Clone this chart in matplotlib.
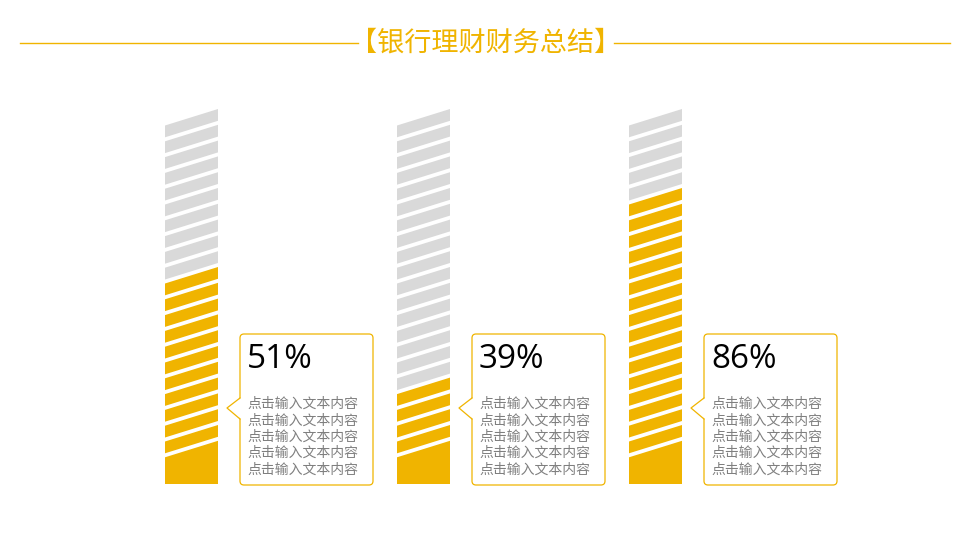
import matplotlib.pyplot as plt
from matplotlib.patches import Polygon, FancyBboxPatch

plt.rcParams['font.family'] = ['Noto Sans CJK SC', 'DejaVu Sans']

# data
pct_values = [51, 39, 86]          # numbers shown in the callouts
filled_stripes = [11, 4, 16]       # yellow stripes drawn in each column
n_stripes = 21
desc_lines = ['点击输入文本内容'] * 5
title = '【银行理财财务总结】'

yellow = '#F0B400'
gray = '#D9D9D9'
text_gray = '#7F7F7F'

fig = plt.figure(figsize=(9.6, 5.4), dpi=100)
ax = fig.add_axes([0, 0, 1, 1])
ax.set_xlim(0, 960)
ax.set_ylim(540, 0)
ax.axis('off')

# title with lines
ax.text(486, 43, title, ha='center', va='center', fontsize=19.5, color=yellow)
ax.plot([20, 358], [43, 43], color=yellow, lw=1)
ax.plot([614, 950], [43, 43], color=yellow, lw=1)

bar_left = [165, 397, 629]
bar_w = 53
top = 109
period = 15.8
thick = 11.8
slant = 16.5
bottom = 484

for k in range(len(pct_values)):
    x0 = bar_left[k]
    x1 = x0 + bar_w
    # slanted stripes
    for i in range(n_stripes):
        yt = top + i * period
        c = yellow if i >= n_stripes - filled_stripes[k] else gray
        ax.add_patch(Polygon([(x0, yt + slant), (x1, yt), (x1, yt + thick),
                              (x0, yt + thick + slant)], closed=True,
                             facecolor=c, edgecolor='none'))
    yt = top + n_stripes * period
    ax.add_patch(Polygon([(x0, yt + slant), (x1, yt), (x1, bottom), (x0, bottom)],
                         closed=True, facecolor=yellow, edgecolor='none'))

    # callout box
    bx0 = x0 + 75
    bw = 133
    by0 = 334
    by1 = 485
    ax.add_patch(FancyBboxPatch((bx0, by0), bw, by1 - by0,
                                boxstyle='round,pad=0,rounding_size=4',
                                facecolor='white', edgecolor=yellow, lw=0.9))
    tip = (bx0 - 13, 408)
    ax.add_patch(Polygon([(bx0 + 1, 398), tip, (bx0 + 1, 419)], closed=True,
                         facecolor='white', edgecolor='none', zorder=3))
    ax.plot([bx0, tip[0], bx0], [398, tip[1], 419], color=yellow, lw=0.9, zorder=4)

    ax.text(bx0 + 7, 360, f'{pct_values[k]}%', ha='left', va='center',
            fontsize=24, color='black', family=['Open Sans', 'DejaVu Sans'])
    for j, line in enumerate(desc_lines):
        ax.text(bx0 + 7, 404 + j * 16.4, line, ha='left', va='center',
                fontsize=10, color=text_gray)

fig.savefig('out.png', dpi=100, facecolor='white')
